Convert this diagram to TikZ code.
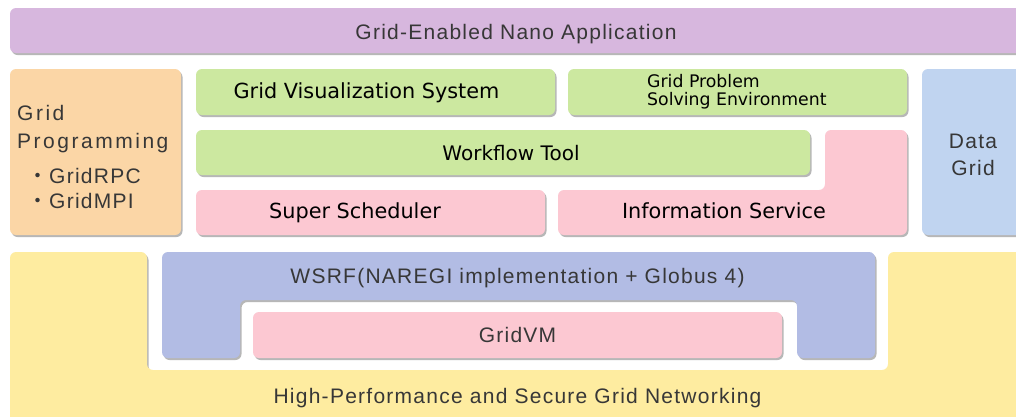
\documentclass[tikz,border=0pt]{standalone}
\usepackage{fontspec}
\setmainfont{DejaVu Sans}
\newfontfamily\gfont[LetterSpace=6]{Liberation Sans}
\newfontfamily\gfontw[LetterSpace=12]{Liberation Sans}
\newfontfamily\jpfont{Noto Sans CJK JP}
\usetikzlibrary{shadows}
\definecolor{cpurple}{RGB}{215,183,222}
\definecolor{corange}{RGB}{251,214,166}
\definecolor{cgreen}{RGB}{204,232,160}
\definecolor{cpink}{RGB}{252,200,210}
\definecolor{clblue}{RGB}{192,212,240}
\definecolor{cyellow}{RGB}{254,236,160}
\definecolor{cwsrf}{RGB}{178,188,228}
\definecolor{gtext}{RGB}{55,55,55}
\tikzset{
  panel/.style={fill=#1, rounded corners=6pt,
    drop shadow={shadow xshift=1.5pt, shadow yshift=-2pt, opacity=0.4, fill=black!70}},
  glabel/.style={font=\gfont\fontsize{21}{25}\selectfont, text=gtext, inner sep=0pt},
  gwlabel/.style={font=\gfontw\fontsize{21}{25}\selectfont, text=gtext, inner sep=0pt},
  blabel/.style={font=\fontsize{20.8}{24}\selectfont, text=black, inner sep=0pt},
  slabel/.style={font=\fontsize{17.3}{20}\selectfont, text=black, inner sep=0pt, anchor=base west},
}
\begin{document}
\begin{tikzpicture}[x=1pt,y=-1pt]
\useasboundingbox (0,0) rectangle (1016,416);
\fill[white] (0,0) rectangle (1016,416);
\clip (0,0) rectangle (1016,416);

% panels
\path[panel=cpurple] (10,8) rectangle (1030,53);
\path[panel=corange] (10,69) rectangle (181,235);
\path[panel=cgreen] (196,69) rectangle (555,115);
\path[panel=cgreen] (568,69) rectangle (907,115);
\path[panel=cgreen] (196,130) rectangle (810,175);
\path[panel=cpink] (196,190) rectangle (545,235);
\path[panel=cpink] (558,190) -- (825,190) -- (825,130) -- (907,130) -- (907,235) -- (558,235) -- cycle;
\path[panel=clblue] (922,69) rectangle (1030,235);
\path[panel=cyellow] (10,430) -- (10,252) -- (147,252) -- (147,370) -- (888,370) -- (888,252) -- (1030,252) -- (1030,430) -- cycle;
\path[panel=cwsrf] (162,252) -- (875,252) -- (875,358) -- (797,358) -- (797,300) -- (240,300) -- (240,358) -- (162,358) -- cycle;
\path[panel=cpink] (253,312) rectangle (782,358);

% labels
\node[glabel, anchor=base] (app) at (516,39) {Grid-Enabled Nano Application};
\node[gwlabel, anchor=base west] (gp1) at (17,120) {Grid};
\node[gwlabel, anchor=base west] (gp2) at (17,148) {Programming};
\node[glabel, anchor=base west] (gp3) at (27,183) {{\jpfont ・}\hspace{1pt}GridRPC};
\node[glabel, anchor=base west] (gp4) at (27,208) {{\jpfont ・}\hspace{1pt}GridMPI};
\node[glabel, anchor=base] (dg1) at (973,148) {Data};
\node[glabel, anchor=base] (dg2) at (973,175) {Grid};
\node[blabel, anchor=base] (gvs) at (366.5,98) {Grid Visualization System};
\node[slabel] (gpse1) at (647,87) {Grid Problem};
\node[slabel] (gpse2) at (647,105) {Solving Environment};
\node[blabel, font=\fontsize{20}{24}\selectfont, anchor=base] (wft) at (511,160) {Workflow Tool};
\node[blabel, anchor=base] (ss) at (355,218) {Super Scheduler};
\node[blabel, anchor=base] (is) at (724,218) {Information Service};
\node[glabel, anchor=base] (wsrf) at (517.5,283) {WSRF(NAREGI implementation + Globus 4)};
\node[glabel, anchor=base] (gvm) at (517.5,342) {GridVM};
\node[glabel, anchor=base] (net) at (517.5,403) {High-Performance and Secure Grid Networking};
\end{tikzpicture}
\end{document}
